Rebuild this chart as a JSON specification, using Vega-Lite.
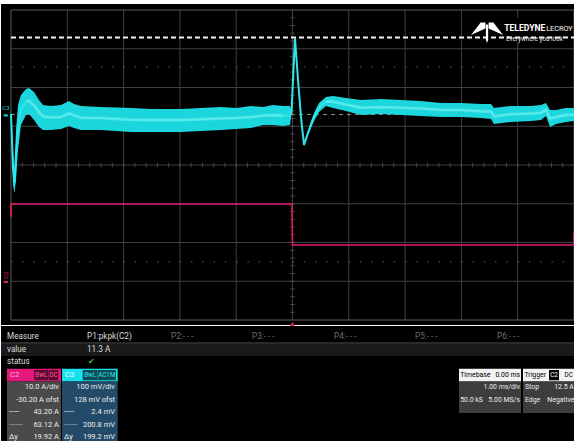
{
  "$schema": "https://vega.github.io/schema/vega-lite/v6.json",
  "background": "white",
  "padding": {"top": 4, "left": 0, "right": 0, "bottom": 0},
  "spacing": 0,
  "config": {
    "view": {"fill": "black", "stroke": null},
    "concat": {"spacing": 0},
    "text": {"font": "Roboto, Liberation Sans, sans-serif"}
  },
  "datasets": {
    "c3": [
      {"t": -5.000, "hi": 19.1, "lo": -11.9, "mid": 3.6},
      {"t": -4.964, "hi": -89.3, "lo": -179.6, "mid": -135},
      {"t": -4.938, "hi": -140.9, "lo": -200.2, "mid": -175},
      {"t": -4.911, "hi": -37.7, "lo": -166.7, "mid": -100},
      {"t": -4.876, "hi": 26.8, "lo": -89.3, "mid": -30},
      {"t": -4.822, "hi": 52.7, "lo": -24.8, "mid": 14},
      {"t": -4.734, "hi": 68.1, "lo": 1.0, "mid": 35},
      {"t": -4.680, "hi": 70.7, "lo": 3.6, "mid": 38},
      {"t": -4.591, "hi": 60.4, "lo": -11.9, "mid": 26},
      {"t": -4.503, "hi": 39.7, "lo": -29.9, "mid": 8},
      {"t": -4.432, "hi": 26.8, "lo": -37.7, "mid": -3},
      {"t": -4.290, "hi": 24.3, "lo": -37.7, "mid": -5},
      {"t": -4.112, "hi": 26.8, "lo": -35.1, "mid": -4},
      {"t": -3.970, "hi": 37.2, "lo": -27.3, "mid": 5},
      {"t": -3.881, "hi": 29.4, "lo": -32.5, "mid": 0},
      {"t": -3.757, "hi": 24.3, "lo": -37.7, "mid": -6},
      {"t": -3.401, "hi": 21.7, "lo": -37.7, "mid": -7},
      {"t": -2.869, "hi": 19.1, "lo": -42.8, "mid": -11},
      {"t": -2.513, "hi": 16.5, "lo": -42.8, "mid": -12},
      {"t": -1.980, "hi": 16.5, "lo": -42.8, "mid": -12},
      {"t": -1.625, "hi": 19.1, "lo": -40.2, "mid": -10},
      {"t": -1.270, "hi": 21.7, "lo": -37.7, "mid": -8},
      {"t": -1.004, "hi": 19.1, "lo": -35.1, "mid": -7},
      {"t": -0.737, "hi": 24.3, "lo": -32.5, "mid": -4},
      {"t": -0.524, "hi": 21.7, "lo": -24.8, "mid": -1},
      {"t": -0.346, "hi": 26.8, "lo": -24.8, "mid": 1},
      {"t": -0.169, "hi": 24.3, "lo": -27.3, "mid": -1},
      {"t": -0.044, "hi": 24.3, "lo": -24.8, "mid": 0},
      {"t": -0.018, "hi": 12, "lo": 4, "mid": 8},
      {"t": 0.044, "hi": 202, "lo": 196, "mid": 199.7},
      {"t": 0.098, "hi": 94, "lo": 89, "mid": 91.4},
      {"t": 0.151, "hi": -1, "lo": -7, "mid": -4},
      {"t": 0.204, "hi": -72, "lo": -80, "mid": -76.4},
      {"t": 0.275, "hi": -41, "lo": -50, "mid": -45},
      {"t": 0.329, "hi": -14.4, "lo": -32.5, "mid": -24},
      {"t": 0.382, "hi": 6.2, "lo": -14.4, "mid": -4},
      {"t": 0.471, "hi": 32.0, "lo": 8.8, "mid": 20},
      {"t": 0.595, "hi": 47.5, "lo": 24.3, "mid": 36},
      {"t": 0.719, "hi": 50.1, "lo": 19.1, "mid": 35},
      {"t": 0.950, "hi": 44.9, "lo": 11.4, "mid": 28},
      {"t": 1.217, "hi": 39.7, "lo": 1.0, "mid": 20},
      {"t": 1.572, "hi": 42.3, "lo": 3.6, "mid": 22},
      {"t": 1.927, "hi": 39.7, "lo": 1.0, "mid": 20},
      {"t": 2.282, "hi": 37.2, "lo": -1.5, "mid": 18},
      {"t": 2.638, "hi": 32.0, "lo": -4.1, "mid": 14},
      {"t": 2.993, "hi": 32.0, "lo": -4.1, "mid": 14},
      {"t": 3.348, "hi": 29.4, "lo": -6.7, "mid": 11},
      {"t": 3.526, "hi": 29.4, "lo": -9.3, "mid": 10},
      {"t": 3.579, "hi": 19.1, "lo": -22.2, "mid": -2},
      {"t": 3.881, "hi": 24.3, "lo": -17.0, "mid": 3},
      {"t": 4.236, "hi": 24.3, "lo": -14.4, "mid": 5},
      {"t": 4.414, "hi": 26.8, "lo": -11.9, "mid": 7},
      {"t": 4.503, "hi": 32.0, "lo": -1.5, "mid": 15},
      {"t": 4.574, "hi": 13.9, "lo": -29.9, "mid": -8},
      {"t": 4.680, "hi": 13.9, "lo": -22.2, "mid": -4},
      {"t": 4.858, "hi": 19.1, "lo": -17.0, "mid": 1},
      {"t": 5.000, "hi": 19.1, "lo": -14.4, "mid": 2}
    ],
    "c2": [
      {"t": -5.0, "amps": 16.8},
      {"t": -4.998, "amps": 20.14},
      {"t": -0.01, "amps": 20.14},
      {"t": 0.0, "amps": 9.55},
      {"t": 4.998, "amps": 9.55},
      {"t": 5.0, "amps": 12.65}
    ],
    "boxes": [
      {"x1": 0, "x2": 100, "r1": 0.56, "r2": 1.52, "kind": "row"},
      {"x1": 1.045, "x2": 10.45, "r1": 2.54, "r2": 3.56, "kind": "c2head"},
      {"x1": 5.8, "x2": 8.24, "r1": 2.64, "r2": 3.46, "kind": "c2tag"},
      {"x1": 8.31, "x2": 9.98, "r1": 2.64, "r2": 3.46, "kind": "c2tag"},
      {"x1": 1.045, "x2": 10.45, "r1": 3.56, "r2": 8.4, "kind": "c2body"},
      {"x1": 10.63, "x2": 20.33, "r1": 2.54, "r2": 3.56, "kind": "c3head"},
      {"x1": 14.23, "x2": 16.85, "r1": 2.64, "r2": 3.46, "kind": "c3tag"},
      {"x1": 16.9, "x2": 20.03, "r1": 2.64, "r2": 3.46, "kind": "c3tag"},
      {"x1": 10.63, "x2": 20.33, "r1": 3.56, "r2": 8.4, "kind": "c3body"},
      {"x1": 79.79, "x2": 90.59, "r1": 2.54, "r2": 3.56, "kind": "panelhead"},
      {"x1": 79.79, "x2": 90.59, "r1": 3.56, "r2": 6.08, "kind": "panelbody"},
      {"x1": 90.94, "x2": 100, "r1": 2.54, "r2": 3.56, "kind": "panelhead"},
      {"x1": 95.47, "x2": 97.21, "r1": 2.64, "r2": 3.46, "kind": "trtag"},
      {"x1": 90.94, "x2": 100, "r1": 3.56, "r2": 6.08, "kind": "panelbody"}
    ],
    "leftText": [
      {"x": 1.045, "r": 0, "text": "Measure", "tone": "label"},
      {"x": 14.98, "r": 0, "text": "P1:pkpk(C2)", "tone": "label"},
      {"x": 29.62, "r": 0, "text": "P2:- - -", "tone": "dim"},
      {"x": 43.73, "r": 0, "text": "P3:- - -", "tone": "dim"},
      {"x": 58.01, "r": 0, "text": "P4:- - -", "tone": "dim"},
      {"x": 72.13, "r": 0, "text": "P5:- - -", "tone": "dim"},
      {"x": 86.41, "r": 0, "text": "P6:- - -", "tone": "dim"},
      {"x": 1.045, "r": 1, "text": "value", "tone": "label"},
      {"x": 14.98, "r": 1, "text": "11.3 A", "tone": "label"},
      {"x": 1.045, "r": 2, "text": "status", "tone": "label"},
      {"x": 15.2, "r": 2, "text": "✔", "tone": "check"},
      {"x": 1.568, "r": 3, "text": "C2", "tone": "c2head"},
      {"x": 11.15, "r": 3, "text": "C3", "tone": "c3head"},
      {"x": 1.394, "r": 6, "text": "-----", "tone": "plain"},
      {"x": 1.394, "r": 7, "text": "·······", "tone": "plain"},
      {"x": 1.394, "r": 8, "text": "Δy", "tone": "plain"},
      {"x": 10.98, "r": 6, "text": "-----", "tone": "plain"},
      {"x": 10.98, "r": 7, "text": "·······", "tone": "plain"},
      {"x": 10.98, "r": 8, "text": "Δy", "tone": "plain"},
      {"x": 80.0, "r": 3, "text": "Timebase", "tone": "black"},
      {"x": 80.0, "r": 5, "text": "50.0 kS", "tone": "plain"},
      {"x": 91.2, "r": 3, "text": "Trigger", "tone": "black"},
      {"x": 91.29, "r": 4, "text": "Stop", "tone": "plain"},
      {"x": 91.29, "r": 5, "text": "Edge", "tone": "plain"}
    ],
    "rightText": [
      {"x": 10.1, "r": 4, "text": "10.0 A/div", "tone": "plain"},
      {"x": 10.1, "r": 5, "text": "-30.20 A ofst", "tone": "plain"},
      {"x": 10.1, "r": 6, "text": "43.20 A", "tone": "plain"},
      {"x": 10.1, "r": 7, "text": "63.12 A", "tone": "plain"},
      {"x": 10.1, "r": 8, "text": "19.92 A", "tone": "plain"},
      {"x": 19.86, "r": 4, "text": "100 mV/div", "tone": "plain"},
      {"x": 19.86, "r": 5, "text": "128 mV ofst", "tone": "plain"},
      {"x": 19.86, "r": 6, "text": "2.4 mV", "tone": "plain"},
      {"x": 19.86, "r": 7, "text": "200.8 mV", "tone": "plain"},
      {"x": 19.86, "r": 8, "text": "199.2 mV", "tone": "plain"},
      {"x": 90.45, "r": 3, "text": "0.00 ms", "tone": "black"},
      {"x": 90.42, "r": 4, "text": "1.00 ms/div", "tone": "plain"},
      {"x": 90.42, "r": 5, "text": "5.00 MS/s", "tone": "plain"},
      {"x": 99.8, "r": 4, "text": "12.5 A", "tone": "plain"},
      {"x": 99.9, "r": 5, "text": "Negative", "tone": "plain"}
    ],
    "tagText": [
      {"x": 7.02, "r": 3, "text": "BwL", "tone": "c2tag"},
      {"x": 9.15, "r": 3, "text": "DC", "tone": "c2tag"},
      {"x": 15.54, "r": 3, "text": "BwL", "tone": "c3tag"},
      {"x": 18.43, "r": 3, "text": "AC1M", "tone": "c3tag"},
      {"x": 96.34, "r": 3, "text": "C2", "tone": "trtag"},
      {"x": 98.9, "r": 3, "text": "DC", "tone": "black"}
    ]
  },
  "vconcat": [
    {
      "width": 574,
      "height": 321,
      "resolve": {"scale": {"y": "independent"}},
      "layer": [
        {
          "data": {"values": [-4, -3, -2, -1, 0, 1, 2, 3, 4]},
          "mark": {"type": "rule", "color": "#404040", "strokeWidth": 1},
          "encoding": {
            "x": {"field": "data", "type": "quantitative", "scale": {"domain": [-5.1776, 5.0178], "nice": false, "zero": false}, "axis": null},
            "y": {"datum": -4, "type": "quantitative", "scale": {"domain": [-4.129, 4.155], "nice": false, "zero": false}, "axis": null},
            "y2": {"datum": 4}
          }
        },
        {
          "data": {"values": [-3, -2, -1, 0, 1, 2, 3]},
          "mark": {"type": "rule", "color": "#404040", "strokeWidth": 1},
          "encoding": {
            "y": {"field": "data", "type": "quantitative", "scale": {"domain": [-4.129, 4.155], "nice": false, "zero": false}, "axis": null},
            "x": {"datum": -5, "type": "quantitative", "scale": {"domain": [-5.1776, 5.0178], "nice": false, "zero": false}, "axis": null},
            "x2": {"datum": 5}
          }
        },
        {
          "data": {"values": [2.53, -2.5]},
          "mark": {"type": "rule", "color": "#6a6a6a", "strokeWidth": 1, "strokeDash": [1.3, 9.96]},
          "encoding": {
            "y": {"field": "data", "type": "quantitative", "scale": {"domain": [-4.129, 4.155], "nice": false, "zero": false}, "axis": null},
            "x": {"datum": -5, "type": "quantitative", "scale": {"domain": [-5.1776, 5.0178], "nice": false, "zero": false}, "axis": null},
            "x2": {"datum": 5}
          }
        },
        {
          "data": {"values": [-4.8, -4.6, -4.4, -4.2, -4, -3.8, -3.6, -3.4, -3.2, -3, -2.8, -2.6, -2.4, -2.2, -2, -1.8, -1.6, -1.4, -1.2, -1, -0.8, -0.6, -0.4, -0.2, 0.2, 0.4, 0.6, 0.8, 1, 1.2, 1.4, 1.6, 1.8, 2, 2.2, 2.4, 2.6, 2.8, 3, 3.2, 3.4, 3.6, 3.8, 4, 4.2, 4.4, 4.6, 4.8]},
          "mark": {"type": "tick", "orient": "vertical", "size": 5, "color": "#5a5a5a", "thickness": 1},
          "encoding": {
            "x": {"field": "data", "type": "quantitative", "scale": {"domain": [-5.1776, 5.0178], "nice": false, "zero": false}, "axis": null},
            "y": {"datum": 0, "type": "quantitative", "scale": {"domain": [-4.129, 4.155], "nice": false, "zero": false}, "axis": null}
          }
        },
        {
          "data": {"values": [-3.8, -3.6, -3.4, -3.2, -3, -2.8, -2.6, -2.4, -2.2, -2, -1.8, -1.6, -1.4, -1.2, -1, -0.8, -0.6, -0.4, -0.2, 0.2, 0.4, 0.6, 0.8, 1, 1.2, 1.4, 1.6, 1.8, 2, 2.2, 2.4, 2.6, 2.8, 3, 3.2, 3.4, 3.6, 3.8]},
          "mark": {"type": "tick", "orient": "horizontal", "size": 5, "color": "#5a5a5a", "thickness": 1},
          "encoding": {
            "y": {"field": "data", "type": "quantitative", "scale": {"domain": [-4.129, 4.155], "nice": false, "zero": false}, "axis": null},
            "x": {"datum": 0, "type": "quantitative", "scale": {"domain": [-5.1776, 5.0178], "nice": false, "zero": false}, "axis": null}
          }
        },
        {
          "data": {"values": [{}]},
          "mark": {"type": "rect", "filled": false, "stroke": "#5c5c5c", "strokeWidth": 1},
          "encoding": {
            "x": {"datum": -5, "type": "quantitative", "scale": {"domain": [-5.1776, 5.0178], "nice": false, "zero": false}, "axis": null},
            "x2": {"datum": 5},
            "y": {"datum": -4, "type": "quantitative", "scale": {"domain": [-4.129, 4.155], "nice": false, "zero": false}, "axis": null},
            "y2": {"datum": 4}
          }
        },
        {
          "data": {"values": [{}]},
          "mark": {"type": "rect", "color": "black"},
          "encoding": {
            "x": {"datum": 3.1, "type": "quantitative", "scale": {"domain": [-5.1776, 5.0178], "nice": false, "zero": false}, "axis": null},
            "x2": {"datum": 4.98},
            "y": {"datum": 3.8, "type": "quantitative", "scale": {"domain": [-4.129, 4.155], "nice": false, "zero": false}, "axis": null},
            "y2": {"datum": 3.15}
          }
        },
        {
          "data": {"values": [{"mv": 2.4}]},
          "mark": {"type": "rule", "color": "#8c8c8c", "strokeWidth": 1, "strokeDash": [4, 4]},
          "encoding": {
            "y": {"field": "mv", "type": "quantitative", "scale": {"domain": [-540.9, 287.5], "nice": false, "zero": false}, "axis": null},
            "x": {"datum": -5, "type": "quantitative", "scale": {"domain": [-5.1776, 5.0178], "nice": false, "zero": false}, "axis": null},
            "x2": {"datum": 5}
          }
        },
        {
          "data": {"values": [{"mv": 200.8}]},
          "mark": {"type": "rule", "color": "#f2f2f2", "strokeWidth": 2, "strokeDash": [5, 3]},
          "encoding": {
            "y": {"field": "mv", "type": "quantitative", "scale": {"domain": [-540.9, 287.5], "nice": false, "zero": false}, "axis": null},
            "x": {"datum": -5, "type": "quantitative", "scale": {"domain": [-5.1776, 5.0178], "nice": false, "zero": false}, "axis": null},
            "x2": {"datum": 5}
          }
        },
        {
          "data": {"name": "c2"},
          "mark": {"type": "line", "color": "#e3186f", "strokeWidth": 1.6},
          "encoding": {
            "x": {"field": "t", "type": "quantitative", "scale": {"domain": [-5.1776, 5.0178], "nice": false, "zero": false}, "axis": null},
            "y": {"field": "amps", "type": "quantitative", "scale": {"domain": [-11.09, 71.75], "nice": false, "zero": false}, "axis": null}
          }
        },
        {
          "data": {"name": "c3"},
          "mark": {"type": "area", "color": "#1bd6dc", "opacity": 1},
          "encoding": {
            "x": {"field": "t", "type": "quantitative", "scale": {"domain": [-5.1776, 5.0178], "nice": false, "zero": false}, "axis": null},
            "y": {"field": "hi", "type": "quantitative", "scale": {"domain": [-540.9, 287.5], "nice": false, "zero": false}, "axis": null},
            "y2": {"field": "lo"}
          }
        },
        {
          "data": {"name": "c3"},
          "mark": {"type": "line", "color": "#2ee6ea", "strokeWidth": 2},
          "encoding": {
            "x": {"field": "t", "type": "quantitative", "scale": {"domain": [-5.1776, 5.0178], "nice": false, "zero": false}, "axis": null},
            "y": {"field": "mid", "type": "quantitative", "scale": {"domain": [-540.9, 287.5], "nice": false, "zero": false}, "axis": null}
          }
        },
        {
          "data": {"name": "c3"},
          "transform": [{"filter": "datum.t > -4.75 && datum.t < -0.05"}],
          "mark": {"type": "line", "color": "#8ff2f2", "strokeWidth": 3, "opacity": 0.4},
          "encoding": {
            "x": {"field": "t", "type": "quantitative", "scale": {"domain": [-5.1776, 5.0178], "nice": false, "zero": false}, "axis": null},
            "y": {"field": "mid", "type": "quantitative", "scale": {"domain": [-540.9, 287.5], "nice": false, "zero": false}, "axis": null}
          }
        },
        {
          "data": {"name": "c3"},
          "transform": [{"filter": "datum.t > 0.5"}],
          "mark": {"type": "line", "color": "#8ff2f2", "strokeWidth": 3, "opacity": 0.4},
          "encoding": {
            "x": {"field": "t", "type": "quantitative", "scale": {"domain": [-5.1776, 5.0178], "nice": false, "zero": false}, "axis": null},
            "y": {"field": "mid", "type": "quantitative", "scale": {"domain": [-540.9, 287.5], "nice": false, "zero": false}, "axis": null}
          }
        },
        {
          "data": {"values": [{"mv": 0}]},
          "mark": {"type": "rule", "color": "#1bd6dc", "strokeWidth": 2},
          "encoding": {
            "y": {"field": "mv", "type": "quantitative", "scale": {"domain": [-540.9, 287.5], "nice": false, "zero": false}, "axis": null},
            "x": {"datum": -5.13, "type": "quantitative", "scale": {"domain": [-5.1776, 5.0178], "nice": false, "zero": false}, "axis": null},
            "x2": {"datum": -5.055}
          }
        },
        {
          "data": {"values": [{"mv": 18, "label": "C3"}]},
          "mark": {"type": "text", "color": "#1bd6dc", "fontSize": 6, "align": "center", "baseline": "middle"},
          "encoding": {
            "text": {"field": "label"},
            "y": {"field": "mv", "type": "quantitative", "scale": {"domain": [-540.9, 287.5], "nice": false, "zero": false}, "axis": null},
            "x": {"datum": -5.09, "type": "quantitative", "scale": {"domain": [-5.1776, 5.0178], "nice": false, "zero": false}, "axis": null}
          }
        },
        {
          "data": {"values": [{"amps": 0}]},
          "mark": {"type": "rule", "color": "#e3186f", "strokeWidth": 2},
          "encoding": {
            "y": {"field": "amps", "type": "quantitative", "scale": {"domain": [-11.09, 71.75], "nice": false, "zero": false}, "axis": null},
            "x": {"datum": -5.13, "type": "quantitative", "scale": {"domain": [-5.1776, 5.0178], "nice": false, "zero": false}, "axis": null},
            "x2": {"datum": -5.055}
          }
        },
        {
          "data": {"values": [{"amps": 1.8, "label": "C2"}]},
          "mark": {"type": "text", "color": "#e3186f", "fontSize": 6, "align": "center", "baseline": "middle", "angle": 270},
          "encoding": {
            "text": {"field": "label"},
            "y": {"field": "amps", "type": "quantitative", "scale": {"domain": [-11.09, 71.75], "nice": false, "zero": false}, "axis": null},
            "x": {"datum": -5.09, "type": "quantitative", "scale": {"domain": [-5.1776, 5.0178], "nice": false, "zero": false}, "axis": null}
          }
        },
        {
          "data": {"values": [{"t": 0}]},
          "mark": {"type": "point", "shape": "triangle-up", "filled": true, "color": "#e3186f", "size": 24, "opacity": 1},
          "encoding": {
            "x": {"field": "t", "type": "quantitative", "scale": {"domain": [-5.1776, 5.0178], "nice": false, "zero": false}, "axis": null},
            "y": {"datum": -4.1, "type": "quantitative", "scale": {"domain": [-4.129, 4.155], "nice": false, "zero": false}, "axis": null}
          }
        },
        {
          "data": {"values": [{"brand": "Teledyne LeCroy"}]},
          "mark": {"type": "point", "shape": "M-1,0.15 L-0.4,-0.62 L-0.1,-0.62 L-0.1,-0.25 Z M1,0.15 L0.4,-0.62 L0.1,-0.62 L0.1,-0.25 Z M-0.07,-0.5 L0.07,-0.5 L0.07,0.45 L0,0.65 L-0.07,0.45 Z", "filled": true, "color": "white", "size": 1024, "opacity": 1},
          "encoding": {
            "x": {"datum": 3.455, "type": "quantitative", "scale": {"domain": [-5.1776, 5.0178], "nice": false, "zero": false}, "axis": null},
            "y": {"datum": 3.42, "type": "quantitative", "scale": {"domain": [-4.129, 4.155], "nice": false, "zero": false}, "axis": null}
          }
        },
        {
          "data": {"values": [{"label": "TELEDYNE"}]},
          "mark": {"type": "text", "color": "white", "fontSize": 8.6, "fontWeight": "bold", "align": "left", "baseline": "alphabetic"},
          "encoding": {
            "text": {"field": "label"},
            "x": {"datum": 3.76, "type": "quantitative", "scale": {"domain": [-5.1776, 5.0178], "nice": false, "zero": false}, "axis": null},
            "y": {"datum": 3.458, "type": "quantitative", "scale": {"domain": [-4.129, 4.155], "nice": false, "zero": false}, "axis": null}
          }
        },
        {
          "data": {"values": [{"label": "LECROY"}]},
          "mark": {"type": "text", "color": "white", "fontSize": 7.3, "align": "left", "baseline": "alphabetic"},
          "encoding": {
            "text": {"field": "label"},
            "x": {"datum": 4.505, "type": "quantitative", "scale": {"domain": [-5.1776, 5.0178], "nice": false, "zero": false}, "axis": null},
            "y": {"datum": 3.458, "type": "quantitative", "scale": {"domain": [-4.129, 4.155], "nice": false, "zero": false}, "axis": null}
          }
        },
        {
          "data": {"values": [{"label": "Everywhere you look™"}]},
          "mark": {"type": "text", "color": "#e8e8e8", "fontSize": 6.3, "align": "left", "baseline": "alphabetic"},
          "encoding": {
            "text": {"field": "label"},
            "x": {"datum": 3.792, "type": "quantitative", "scale": {"domain": [-5.1776, 5.0178], "nice": false, "zero": false}, "axis": null},
            "y": {"datum": 3.213, "type": "quantitative", "scale": {"domain": [-4.129, 4.155], "nice": false, "zero": false}, "axis": null}
          }
        }
      ]
    },
    {
      "width": 574,
      "height": 116,
      "resolve": {"scale": {"color": "independent"}},
      "layer": [
        {
          "data": {"name": "boxes"},
          "mark": {"type": "rect"},
          "encoding": {
            "x": {"field": "x1", "type": "quantitative", "scale": {"domain": [0, 100], "nice": false, "zero": false}, "axis": null},
            "x2": {"field": "x2"},
            "y": {"field": "r1", "type": "quantitative", "scale": {"domain": [-0.88, 8.4], "reverse": true, "nice": false, "zero": false}, "axis": null},
            "y2": {"field": "r2"},
            "color": {"field": "kind", "type": "nominal", "legend": null, "scale": {"domain": ["row", "c2head", "c2tag", "c2body", "c3head", "c3tag", "c3body", "panelhead", "panelbody", "trtag"], "range": ["#1a1a1a", "#e4177a", "#5c0a2f", "#4a4a4a", "#18e0ef", "#0d4b55", "#234a68", "#f2f2f2", "#3d3d3d", "#000000"]}}
          }
        },
        {
          "data": {"values": [{}]},
          "mark": {"type": "rule", "color": "#555555", "strokeWidth": 1},
          "encoding": {
            "x": {"datum": 0, "type": "quantitative", "scale": {"domain": [0, 100], "nice": false, "zero": false}, "axis": null},
            "x2": {"datum": 100},
            "y": {"datum": 0.48, "type": "quantitative", "scale": {"domain": [-0.88, 8.4], "reverse": true, "nice": false, "zero": false}, "axis": null}
          }
        },
        {
          "data": {"name": "leftText"},
          "transform": [{"filter": "datum.r <= 2"}],
          "mark": {"type": "text", "align": "left", "baseline": "middle", "fontSize": 8.2},
          "encoding": {
            "x": {"field": "x", "type": "quantitative", "scale": {"domain": [0, 100], "nice": false, "zero": false}, "axis": null},
            "y": {"field": "r", "type": "quantitative", "scale": {"domain": [-0.88, 8.4], "reverse": true, "nice": false, "zero": false}, "axis": null},
            "text": {"field": "text"},
            "color": {"field": "tone", "type": "nominal", "legend": null, "scale": {"domain": ["label", "dim", "check"], "range": ["#dcdcdc", "#6e6e6e", "#36c23a"]}}
          }
        },
        {
          "data": {"name": "leftText"},
          "transform": [{"filter": "datum.r > 2 && datum.x < 79"}],
          "mark": {"type": "text", "align": "left", "baseline": "middle", "fontSize": 7.5},
          "encoding": {
            "x": {"field": "x", "type": "quantitative", "scale": {"domain": [0, 100], "nice": false, "zero": false}, "axis": null},
            "y": {"field": "r", "type": "quantitative", "scale": {"domain": [-0.88, 8.4], "reverse": true, "nice": false, "zero": false}, "axis": null},
            "text": {"field": "text"},
            "color": {"field": "tone", "type": "nominal", "legend": null, "scale": {"domain": ["plain", "c2head", "c3head"], "range": ["#eeeeee", "#ffb3d6", "#e8ffff"]}}
          }
        },
        {
          "data": {"name": "leftText"},
          "transform": [{"filter": "datum.r > 2 && datum.x >= 79"}],
          "mark": {"type": "text", "align": "left", "baseline": "middle", "fontSize": 6.9},
          "encoding": {
            "x": {"field": "x", "type": "quantitative", "scale": {"domain": [0, 100], "nice": false, "zero": false}, "axis": null},
            "y": {"field": "r", "type": "quantitative", "scale": {"domain": [-0.88, 8.4], "reverse": true, "nice": false, "zero": false}, "axis": null},
            "text": {"field": "text"},
            "color": {"field": "tone", "type": "nominal", "legend": null, "scale": {"domain": ["plain", "black"], "range": ["#eeeeee", "#000000"]}}
          }
        },
        {
          "data": {"name": "rightText"},
          "transform": [{"filter": "datum.x < 79"}],
          "mark": {"type": "text", "align": "right", "baseline": "middle", "fontSize": 7.5},
          "encoding": {
            "x": {"field": "x", "type": "quantitative", "scale": {"domain": [0, 100], "nice": false, "zero": false}, "axis": null},
            "y": {"field": "r", "type": "quantitative", "scale": {"domain": [-0.88, 8.4], "reverse": true, "nice": false, "zero": false}, "axis": null},
            "text": {"field": "text"},
            "color": {"field": "tone", "type": "nominal", "legend": null, "scale": {"domain": ["plain", "black"], "range": ["#eeeeee", "#000000"]}}
          }
        },
        {
          "data": {"name": "rightText"},
          "transform": [{"filter": "datum.x >= 79"}],
          "mark": {"type": "text", "align": "right", "baseline": "middle", "fontSize": 6.9},
          "encoding": {
            "x": {"field": "x", "type": "quantitative", "scale": {"domain": [0, 100], "nice": false, "zero": false}, "axis": null},
            "y": {"field": "r", "type": "quantitative", "scale": {"domain": [-0.88, 8.4], "reverse": true, "nice": false, "zero": false}, "axis": null},
            "text": {"field": "text"},
            "color": {"field": "tone", "type": "nominal", "legend": null, "scale": {"domain": ["plain", "black"], "range": ["#eeeeee", "#000000"]}}
          }
        },
        {
          "data": {"name": "tagText"},
          "mark": {"type": "text", "align": "center", "baseline": "middle", "fontSize": 6.3},
          "encoding": {
            "x": {"field": "x", "type": "quantitative", "scale": {"domain": [0, 100], "nice": false, "zero": false}, "axis": null},
            "y": {"field": "r", "type": "quantitative", "scale": {"domain": [-0.88, 8.4], "reverse": true, "nice": false, "zero": false}, "axis": null},
            "text": {"field": "text"},
            "color": {"field": "tone", "type": "nominal", "legend": null, "scale": {"domain": ["c2tag", "c3tag", "trtag", "black"], "range": ["#ff5aa5", "#2de6f0", "#ffffff", "#000000"]}}
          }
        }
      ]
    }
  ]
}
